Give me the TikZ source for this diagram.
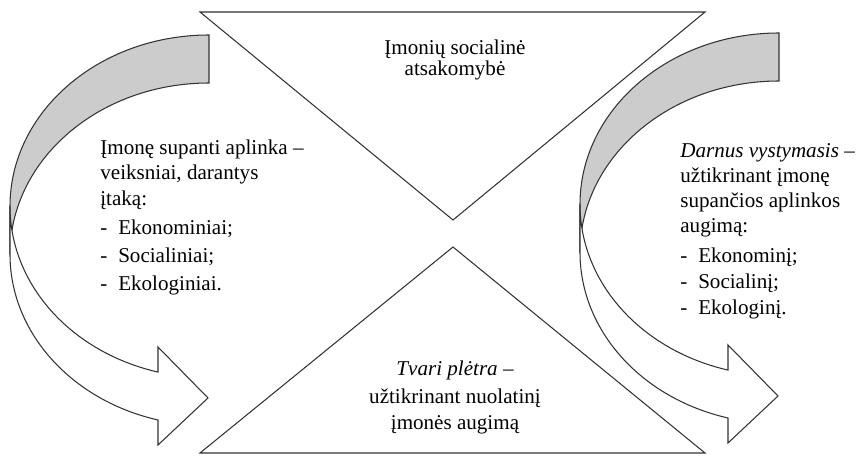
\documentclass[tikz,border=0pt]{standalone}
\usepackage{fontspec}
\setmainfont{Liberation Serif}
\usetikzlibrary{positioning}

\newcommand{\dashitem}[1]{\makebox[10.2pt][l]{-}#1}
\newcommand{\tightlines}{\lineskiplimit=-6pt\relax}

\begin{document}
\begin{tikzpicture}[
  x = 0.02cm, y = 0.02cm,
  edge/.style  = {draw=black!80, line width=0.6pt},
  tri/.style   = {edge, fill=white},
  back/.style  = {edge, fill=black!20},
  front/.style = {edge, fill=white},
  txt/.style   = {font=\fontsize{12}{14.2}\selectfont\tightlines,
                  inner sep=0pt},
]
\useasboundingbox (0,0) rectangle (859,457);

% two triangles meeting in the middle
\filldraw[tri] (200,445) -- (705,445) -- (453,237) -- cycle;
\filldraw[tri] (200,4)   -- (705,4)   -- (453,210) -- cycle;

% curved arrows, left and right
\foreach \dx/\dy in {0/0, 570/2} {
  \begin{scope}[shift={(\dx,\dy)}]
    \filldraw[back] (209,422)
      arc[start angle=90, end angle=180, x radius=199, y radius=171.4]
      -- (10,202.6)
      arc[start angle=180, end angle=90, x radius=199, y radius=171.4]
      -- cycle;
    \filldraw[front] (10,250.6)
      arc[start angle=180, end angle=255.15, x radius=199, y radius=171.4]
      -- (158,110) -- (208,59) -- (158,12) -- (158,37)
      arc[start angle=255.15, end angle=180, x radius=199, y radius=171.4]
      -- cycle;
  \end{scope}
}

% texts (base = last line)
\node[txt, anchor=base, align=center] (csr) at (455,381)
  {Įmonių socialinė\\[-1.7pt] atsakomybė};
\node[txt, anchor=base, align=center] (tvari) at (455,28)
  {\textit{Tvari plėtra} –\\[1.5pt] užtikrinant nuolatinį\\[0.5pt] įmonės augimą};
\node[txt, anchor=base west, align=left] (aplinka) at (100,167)
  {Įmonę supanti aplinka –\\ veiksniai, darantys\\[0.5pt] įtaką:\\[2.2pt]
   \dashitem{Ekonominiai;}\\[1.7pt] \dashitem{Socialiniai;}\\[1.7pt]
   \dashitem{Ekologiniai.}};
\node[txt, anchor=base west, align=left] (darnus) at (680,143)
  {\textit{Darnus vystymasis} –\\ užtikrinant įmonę\\ supančios aplinkos\\ augimą:\\[2.8pt]
   \dashitem{Ekonominį;}\\[0.5pt] \dashitem{Socialinį;}\\[0.5pt]
   \dashitem{Ekologinį.}};
\end{tikzpicture}
\end{document}
